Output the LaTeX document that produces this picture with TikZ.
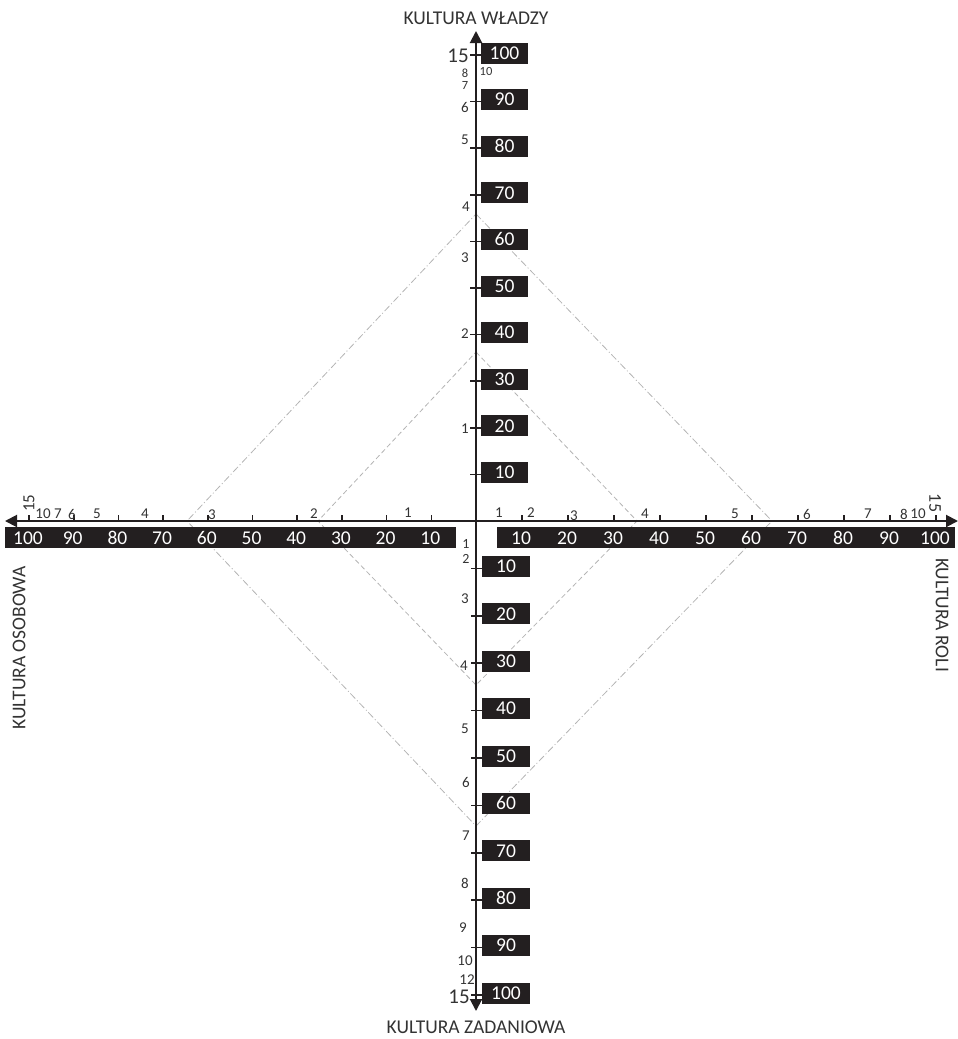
\documentclass[tikz,border=0pt]{standalone}
\usepackage{fontspec}
\setmainfont{Carlito}
\usetikzlibrary{arrows.meta}
\definecolor{ink}{HTML}{231F20}
\definecolor{txt}{HTML}{333333}
\definecolor{guide}{HTML}{B4B4B4}
\begin{document}
\begin{tikzpicture}[x=1pt,y=-1pt,
  axisline/.style={draw=ink,line width=2pt,{Triangle[width=12pt,length=12pt]}-{Triangle[width=12pt,length=12pt]}},
  tickmark/.style={draw=ink,line width=1.6pt},
  vbox/.style={fill=ink,text=white,minimum width=47pt,minimum height=21pt,inner sep=0pt,font=\fontsize{19.5}{20}\selectfont},
  barbg/.style={fill=ink,minimum height=21pt,inner sep=0pt},
  barnum/.style={text=white,inner sep=0pt,font=\fontsize{19.5}{20}\selectfont},
  small/.style={text=txt,inner sep=0pt,font=\fontsize{15}{16}\selectfont},
  tiny/.style={text=txt,inner sep=0pt,font=\fontsize{12.5}{13}\selectfont},
  big/.style={text=txt,inner sep=0pt,font=\fontsize{21}{22}\selectfont},
  title/.style={text=txt,inner sep=0pt,font=\fontsize{19.5}{20}\selectfont},
  outerd/.style={draw=guide,line width=0.8pt,dash pattern=on 7pt off 2.5pt on 1pt off 2.5pt},
  innerd/.style={draw=guide,line width=0.8pt,dash pattern=on 5pt off 3pt}
]
\useasboundingbox (0,0) rectangle (958,1039);

% guide diamonds
\coordinate (oT) at (476,214);
\coordinate (oR) at (772,521);
\coordinate (oB) at (476,826);
\coordinate (oL) at (187,521);
\coordinate (iT) at (476,352);
\coordinate (iR) at (637,521);
\coordinate (iB) at (476,685);
\coordinate (iL) at (318,521);
\draw[outerd] (oT) -- (oR) -- (oB) -- (oL) -- cycle;
\draw[innerd] (iT) -- (iR) -- (iB) -- (iL) -- cycle;

% horizontal bars
\node[barbg,minimum width=451pt] (lbar) at (230.5,537.5) {};
\node[barbg,minimum width=458pt] (rbar) at (726,537.5) {};

% axes
\coordinate (vtop) at (476,31);
\coordinate (vbot) at (476,1011);
\coordinate (hleft) at (5,521);
\coordinate (hright) at (958,521);
\draw[axisline] (vbot) -- (vtop);
\draw[axisline] (hleft) -- (hright);

% vertical upper ticks and boxes
\foreach \k in {1,...,10} {
  \pgfmathsetmacro\yy{521-46.6*\k}
  \draw[tickmark] (470,\yy) -- (481,\yy);
  \node[vbox] (up\k) at (504.5,\yy-2) {\the\numexpr\k*10\relax};
}
% vertical lower ticks and boxes
\foreach \k in {1,...,10} {
  \pgfmathsetmacro\yy{521+47.4*\k}
  \draw[tickmark] (471,\yy) -- (482,\yy);
  \node[vbox,minimum width=48pt] (dn\k) at (506,\yy-2) {\the\numexpr\k*10\relax};
}
% horizontal left ticks and numbers
\foreach \k in {1,...,10} {
  \pgfmathsetmacro\xx{476-44.7*\k}
  \draw[tickmark] (\xx,515) -- (\xx,522);
  \node[barnum] (ln\k) at (\xx-1,538) {\the\numexpr\k*10\relax};
}
% horizontal right ticks and numbers
\foreach \k in {1,...,10} {
  \pgfmathsetmacro\xx{476+46*\k}
  \draw[tickmark] (\xx,515) -- (\xx,522);
  \node[barnum] (rn\k) at (\xx-1,538) {\the\numexpr\k*10\relax};
}

% small scale labels - upper vertical
\node[big] (u15) at (458,56) {15};
\node[tiny] (u10) at (486,71) {10};
\node[tiny] (u8) at (465,73.5) {8};
\node[tiny] (u7) at (465,85.5) {7};
\node[small] (u6) at (465,107) {6};
\node[small] (u5) at (465,140) {5};
\node[small] (u4) at (466,207) {4};
\node[small] (u3) at (465,258) {3};
\node[small] (u2) at (465,334) {2};
\node[small] (u1) at (465,429) {1};
% lower vertical
\node[tiny,font=\fontsize{14}{15}\selectfont] (d1) at (466,544) {1};
\node[tiny,font=\fontsize{14}{15}\selectfont] (d2) at (466,558.5) {2};
\node[small] (d3) at (465,599) {3};
\node[small] (d4) at (464,666) {4};
\node[small] (d5) at (465,729) {5};
\node[small] (d6) at (466,782) {6};
\node[small] (d7) at (466,836) {7};
\node[small] (d8) at (465,883) {8};
\node[small] (d9) at (463,928) {9};
\node[small] (d10) at (465,961) {10};
\node[small] (d12) at (467,980) {12};
\node[big] (d15) at (459,997) {15};
% left horizontal
\node[small,rotate=90,font=\fontsize{17}{18}\selectfont] (l15) at (29,503) {15};
\node[small] (l10) at (43,514) {10};
\node[small] (l7) at (58,514) {7};
\node[small] (l6) at (72,514) {6};
\node[small] (l5) at (97,514) {5};
\node[small] (l4) at (145,514) {4};
\node[small] (l3) at (212,515) {3};
\node[small] (l2) at (314,514) {2};
\node[small] (l1) at (408,513) {1};
% right horizontal
\node[small] (r1) at (499,513) {1};
\node[small] (r2) at (531,513) {2};
\node[small] (r3) at (574,516) {3};
\node[small] (r4) at (645,514) {4};
\node[small] (r5) at (735,514) {5};
\node[small] (r6) at (807,514) {6};
\node[small] (r7) at (868,514) {7};
\node[small] (r8) at (904,514) {8};
\node[small] (r10) at (918,514) {10};
\node[small,rotate=-90,font=\fontsize{18}{19}\selectfont] (r15) at (935,503) {15};

% titles
\node[title] (tW) at (476,18) {KULTURA WŁADZY};
\node[title] (tZ) at (476,1027) {KULTURA ZADANIOWA};
\node[title,rotate=90] (tO) at (19,648) {KULTURA OSOBOWA};
\node[title,rotate=-90] (tR) at (942,615) {KULTURA ROLI};
\end{tikzpicture}
\end{document}
